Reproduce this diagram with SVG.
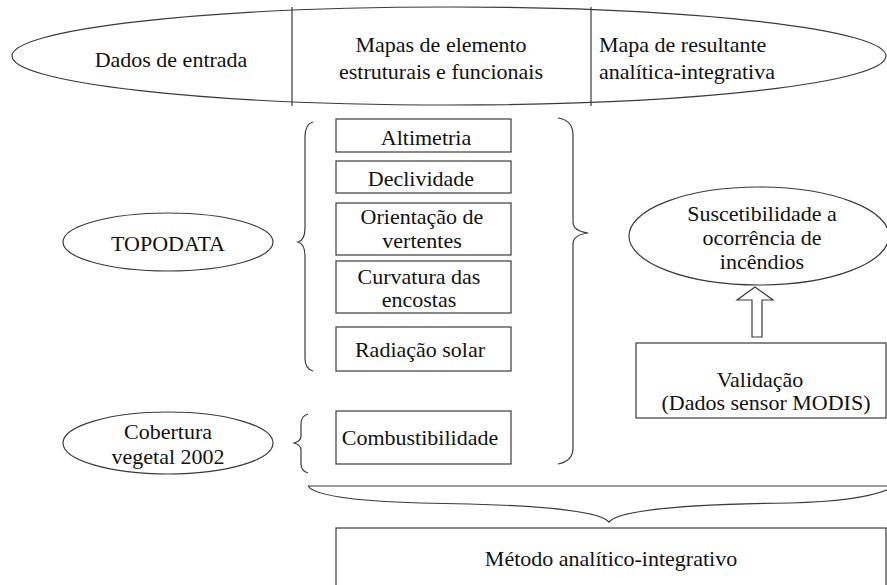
<svg xmlns="http://www.w3.org/2000/svg" width="887" height="585" viewBox="0 0 887 585" font-family="'Liberation Serif', 'Times New Roman', serif" font-size="22">
<style>
.t{fill:#111;text-anchor:middle}
.l{text-anchor:start}
.sh{fill:#fff;stroke:#3a3a3a;stroke-width:1.2}
.br{fill:none;stroke:#3a3a3a;stroke-width:1.2}
</style>
<rect width="887" height="585" fill="#fff"/>
<g id="header">
<ellipse class="sh" cx="449" cy="56" rx="437" ry="49"/>
<line class="br" x1="292" y1="7" x2="292" y2="106"/>
<line class="br" x1="591" y1="7" x2="591" y2="106"/>
<text class="t" x="171" y="67">Dados de entrada</text>
<text class="t" x="441" y="52">Mapas de elemento</text>
<text class="t" x="441" y="79">estruturais e funcionais</text>
<text class="t l" x="599" y="52">Mapa de resultante</text>
<text class="t l" x="599" y="79">analítica-integrativa</text>
</g>
<g id="topodata">
<ellipse class="sh" cx="168" cy="242" rx="105" ry="29"/>
<text class="t" x="168" y="251">TOPODATA</text>
</g>
<g id="cobertura">
<ellipse class="sh" cx="168" cy="443" rx="105" ry="31"/>
<text class="t" x="168" y="439">Cobertura</text>
<text class="t" x="168" y="464">vegetal 2002</text>
</g>
<g id="altimetria">
<rect class="sh" x="336" y="119" width="175" height="33"/>
<text class="t" x="426" y="145">Altimetria</text>
</g>
<g id="declividade">
<rect class="sh" x="336" y="161" width="175" height="32"/>
<text class="t" x="421" y="186">Declividade</text>
</g>
<g id="orientacao">
<rect class="sh" x="336" y="203" width="175" height="52"/>
<text class="t" x="422" y="224">Orientação de</text>
<text class="t" x="422" y="248">vertentes</text>
</g>
<g id="curvatura">
<rect class="sh" x="336" y="261" width="175" height="52"/>
<text class="t" x="419" y="284">Curvatura das</text>
<text class="t" x="419" y="307">encostas</text>
</g>
<g id="radiacao">
<rect class="sh" x="336" y="327" width="175" height="44"/>
<text class="t" x="420" y="357">Radiação solar</text>
</g>
<g id="combustibilidade">
<rect class="sh" x="336" y="411" width="175" height="53"/>
<text class="t" x="420" y="445">Combustibilidade</text>
</g>
<g id="suscetibilidade">
<ellipse class="sh" cx="759" cy="236" rx="130" ry="49"/>
<text class="t" x="762" y="221">Suscetibilidade a</text>
<text class="t" x="762" y="245">ocorrência de</text>
<text class="t" x="762" y="269">incêndios</text>
</g>
<g id="validacao">
<rect class="sh" x="636" y="343" width="250" height="75"/>
<text class="t" x="760" y="387">Validação</text>
<text class="t" x="766" y="410">(Dados sensor MODIS)</text>
</g>
<g id="metodo">
<rect class="sh" x="336" y="528" width="550" height="70"/>
<text class="t" x="611" y="566">Método analítico-integrativo</text>
</g>
<g id="connectors">
<path class="br" d="M313,122 Q305,124 305,137 L305,228 Q305,240 298,242 Q305,244 305,256 L305,358 Q305,369 313,371"/>
<path class="br" d="M558,118 Q573,120 573,135 L573,222 Q573,231 588,233 Q573,235 573,244 L573,448 Q573,461 558,464"/>
<path class="br" d="M308,414 Q301,416 301,424 L301,436 Q301,441 294,443 Q301,445 301,450 L301,464 Q301,471 308,473"/>
<path class="br" d="M308,486 L887,486 M308,486 Q318,500 420,503 Q595,505 609,522 Q623,505 790,503 Q870,501 895,486"/>
<polygon class="sh" points="755,287 773,300 762,300 762,337 752,337 752,300 737,300"/>
</g>
</svg>
